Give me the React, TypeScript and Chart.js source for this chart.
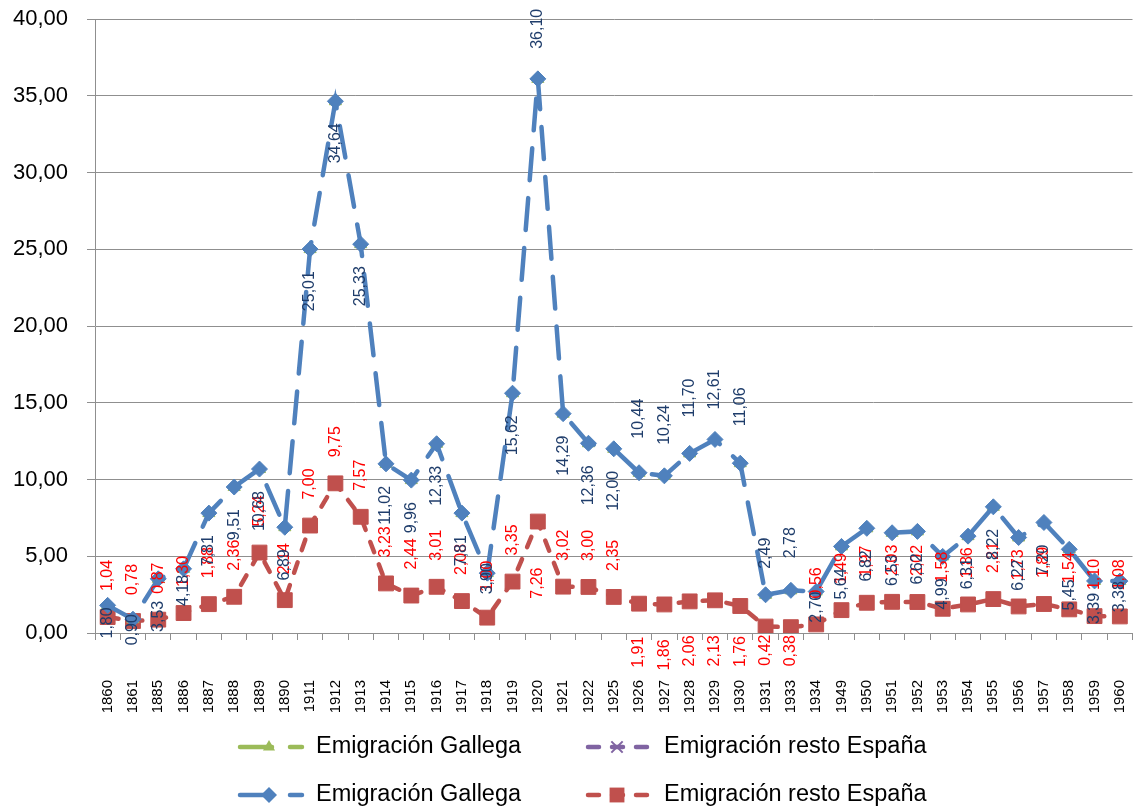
import React, { useEffect, useRef } from "react";
import { Chart, registerables } from "chart.js";

Chart.register(...registerables);

// ---------- DATA ----------
const years = [
  "1860", "1861", "1885", "1886", "1887", "1888", "1889", "1890", "1911", "1912",
  "1913", "1914", "1915", "1916", "1917", "1918", "1919", "1920", "1921", "1922",
  "1925", "1926", "1927", "1928", "1929", "1930", "1931", "1933", "1934", "1949",
  "1950", "1951", "1952", "1953", "1954", "1955", "1956", "1957", "1958", "1959", "1960",
];

const emigracionGallega = [
  1.80, 0.90, 3.53, 4.18, 7.81, 9.51, 10.68, 6.89, 25.01, 34.64,
  25.33, 11.02, 9.96, 12.33, 7.81, 3.90, 15.62, 36.10, 14.29, 12.36,
  12.00, 10.44, 10.24, 11.70, 12.61, 11.06, 2.49, 2.78, 2.70, 5.64,
  6.82, 6.53, 6.62, 4.99, 6.31, 8.22, 6.22, 7.20, 5.45, 3.39, 3.38,
];

const emigracionRestoEspana = [
  1.04, 0.78, 0.87, 1.30, 1.88, 2.36, 5.24, 2.14, 7.00, 9.75,
  7.57, 3.23, 2.44, 3.01, 2.08, 1.00, 3.35, 7.26, 3.02, 3.00,
  2.35, 1.91, 1.86, 2.06, 2.13, 1.76, 0.42, 0.38, 0.56, 1.49,
  1.97, 2.03, 2.02, 1.58, 1.86, 2.21, 1.73, 1.89, 1.54, 1.10, 1.08,
];

const seriesGallega = "Emigración Gallega";
const seriesResto = "Emigración resto España";

const yMin = 0;
const yMax = 40;
const yStep = 5;

// ---------- STYLE / LAYOUT ----------
const FONT = "'Liberation Sans', Arial, sans-serif";
const BLUE = "#4F81BD";
const RED = "#C0504D";
const GREEN = "#9BBB59";
const PURPLE = "#8064A2";
const BLUE_LABEL = "#1F3D6B";
const RED_LABEL = "#FF0000";
const GRID = "#8f8f8f";
const BLUE_DASH = [32, 18];
const RED_DASH = [11, 13];

// label placement: blue below by default, red above by default
const blueAbove: Record<number, number> = { 17: 30, 21: 34, 22: 31, 23: 36, 24: 30, 25: 37, 26: 26, 27: 32 };
const blueBelowGap: Record<number, number> = { 0: 2, 1: -5, 3: 6, 15: -10, 28: 0, 38: 30, 39: 12, 40: 0 };
const redBelow: Record<number, number> = { 17: 46, 21: 33, 22: 35, 23: 34, 24: 35, 25: 30, 26: 8, 27: 8 };

const fmt = (v: number) => v.toFixed(2).replace(".", ",");

function drawMarker(ctx: CanvasRenderingContext2D, style: string, x: number, y: number, r: number, color: string) {
  ctx.save();
  ctx.fillStyle = color;
  ctx.strokeStyle = color;
  ctx.lineWidth = 1.5;
  ctx.setLineDash([]);
  ctx.beginPath();
  if (style === "triangle") {
    ctx.moveTo(x, y - r);
    ctx.lineTo(x + r * 0.866, y + r * 0.5);
    ctx.lineTo(x - r * 0.866, y + r * 0.5);
    ctx.closePath();
    ctx.fill();
  } else if (style === "rectRot") {
    ctx.moveTo(x, y - r);
    ctx.lineTo(x + r, y);
    ctx.lineTo(x, y + r);
    ctx.lineTo(x - r, y);
    ctx.closePath();
    ctx.fill();
  } else if (style === "rect") {
    const s = r * Math.SQRT1_2;
    ctx.rect(x - s, y - s, 2 * s, 2 * s);
    ctx.fill();
  } else if (style === "crossRot") {
    const s = r * Math.SQRT1_2;
    ctx.lineWidth = 2;
    ctx.moveTo(x - s, y - s);
    ctx.lineTo(x + s, y + s);
    ctx.moveTo(x + s, y - s);
    ctx.lineTo(x - s, y + s);
    ctx.stroke();
  }
  ctx.restore();
}

const labelPlugin = {
  id: "valueLabels",
  afterDatasetsDraw(chart: any) {
    const ctx: CanvasRenderingContext2D = chart.ctx;
    ctx.save();
    ctx.font = `16px ${FONT}`;
    ctx.textBaseline = "middle";
    const redMeta = chart.getDatasetMeta(3);
    redMeta.data.forEach((pt: any, i: number) => {
      const v = emigracionRestoEspana[i];
      ctx.save();
      ctx.fillStyle = RED_LABEL;
      if (redBelow[i] !== undefined) {
        ctx.translate(pt.x, pt.y + redBelow[i]);
        ctx.rotate(-Math.PI / 2);
        ctx.textAlign = "right";
      } else {
        ctx.translate(pt.x, pt.y - 26);
        ctx.rotate(-Math.PI / 2);
        ctx.textAlign = "left";
      }
      ctx.fillText(fmt(v), 0, 0);
      ctx.restore();
    });
    const blueMeta = chart.getDatasetMeta(2);
    blueMeta.data.forEach((pt: any, i: number) => {
      const v = emigracionGallega[i];
      ctx.save();
      ctx.fillStyle = BLUE_LABEL;
      if (blueAbove[i] !== undefined) {
        ctx.translate(pt.x, pt.y - blueAbove[i]);
        ctx.rotate(-Math.PI / 2);
        ctx.textAlign = "left";
      } else {
        const g = blueBelowGap[i] !== undefined ? blueBelowGap[i] : 22;
        ctx.translate(pt.x, pt.y + g);
        ctx.rotate(-Math.PI / 2);
        ctx.textAlign = "right";
      }
      ctx.fillText(fmt(v), 0, 0);
      ctx.restore();
    });
    ctx.restore();
  },
};

const legendPlugin = {
  id: "customLegend",
  afterDraw(chart: any) {
    const ctx: CanvasRenderingContext2D = chart.ctx;
    const entries = [
      { x: 240, y: 747, color: GREEN, dash: BLUE_DASH, style: "triangle", r: 7, text: seriesGallega },
      { x: 588, y: 747, color: PURPLE, dash: RED_DASH, style: "crossRot", r: 8, text: seriesResto },
      { x: 240, y: 795, color: BLUE, dash: BLUE_DASH, style: "rectRot", r: 8, text: seriesGallega },
      { x: 588, y: 795, color: RED, dash: RED_DASH, style: "rect", r: 10.5, text: seriesResto },
    ];
    entries.forEach((e) => {
      ctx.save();
      ctx.strokeStyle = e.color;
      ctx.lineWidth = 4.5;
      ctx.lineCap = "round";
      ctx.setLineDash(e.dash);
      ctx.beginPath();
      ctx.moveTo(e.x, e.y);
      ctx.lineTo(e.x + 62, e.y);
      ctx.stroke();
      ctx.restore();
      drawMarker(ctx, e.style, e.x + 29, e.y, e.r, e.color);
      ctx.save();
      ctx.fillStyle = "#000";
      ctx.font = `23.5px ${FONT}`;
      ctx.textBaseline = "middle";
      ctx.textAlign = "left";
      ctx.fillText(e.text, e.x + 76, e.y);
      ctx.restore();
    });
  },
};

export default function App() {
  const canvasRef = useRef<HTMLCanvasElement | null>(null);

  useEffect(() => {
    if (!canvasRef.current) return;
    const chart = new Chart(canvasRef.current, {
      type: "line",
      data: {
        labels: years,
        datasets: [
          {
            label: seriesGallega,
            data: emigracionGallega,
            borderColor: GREEN,
            backgroundColor: GREEN,
            showLine: false,
            pointStyle: "triangle",
            pointRadius: 7,
            pointBorderWidth: 1,
            order: 1,
          },
          {
            label: seriesResto,
            data: emigracionRestoEspana,
            borderColor: PURPLE,
            backgroundColor: PURPLE,
            showLine: false,
            pointStyle: "crossRot",
            pointRadius: 6,
            pointBorderWidth: 2,
            order: 3,
          },
          {
            label: seriesGallega,
            data: emigracionGallega,
            borderColor: BLUE,
            backgroundColor: BLUE,
            borderWidth: 4.5,
            borderDash: BLUE_DASH,
            borderCapStyle: "round",
            tension: 0,
            pointStyle: "rectRot",
            pointRadius: 8,
            pointBorderWidth: 1,
            order: 0,
          },
          {
            label: seriesResto,
            data: emigracionRestoEspana,
            borderColor: RED,
            backgroundColor: RED,
            borderWidth: 4.5,
            borderDash: RED_DASH,
            borderCapStyle: "round",
            tension: 0,
            pointStyle: "rect",
            pointRadius: 10.5,
            pointBorderWidth: 1,
            order: 2,
          },
        ],
      },
      options: {
        responsive: false,
        animation: false,
        events: [],
        layout: { padding: { left: 0, right: 4, top: 19, bottom: 91 } },
        plugins: {
          legend: { display: false },
          tooltip: { enabled: false },
          title: { display: false },
        },
        scales: {
          x: {
            type: "category",
            offset: true,
            afterFit: (scale: any) => {
              scale.height = 87;
              scale.paddingLeft = 0;
              scale.paddingRight = 0;
            },
            grid: {
              display: true,
              offset: true,
              drawOnChartArea: false,
              drawTicks: true,
              tickLength: 7,
              color: GRID,
              lineWidth: 1,
            },
            border: { display: true, color: GRID, width: 1 },
            ticks: {
              autoSkip: false,
              maxRotation: 90,
              minRotation: 90,
              padding: 40,
              color: "#000",
              font: { family: FONT, size: 15 },
            },
          },
          y: {
            min: yMin,
            max: yMax,
            afterFit: (scale: any) => {
              scale.width = 95;
              scale.paddingTop = 0;
              scale.paddingBottom = 0;
            },
            grid: {
              display: true,
              drawOnChartArea: true,
              drawTicks: true,
              tickLength: 8,
              color: GRID,
              lineWidth: 1,
            },
            border: { display: true, color: GRID, width: 1 },
            ticks: {
              stepSize: yStep,
              padding: 19,
              color: "#000",
              font: { family: FONT, size: 22 },
              callback: (v: any) => fmt(Number(v)),
            },
          },
        },
      },
      plugins: [labelPlugin, legendPlugin],
    });
    return () => chart.destroy();
  }, []);

  return (
    <div style={{ position: "absolute", left: 0, top: 0, width: 1144, height: 811, background: "#fff" }}>
      <canvas ref={canvasRef} width={1144} height={811} style={{ display: "block" }} />
    </div>
  );
}
